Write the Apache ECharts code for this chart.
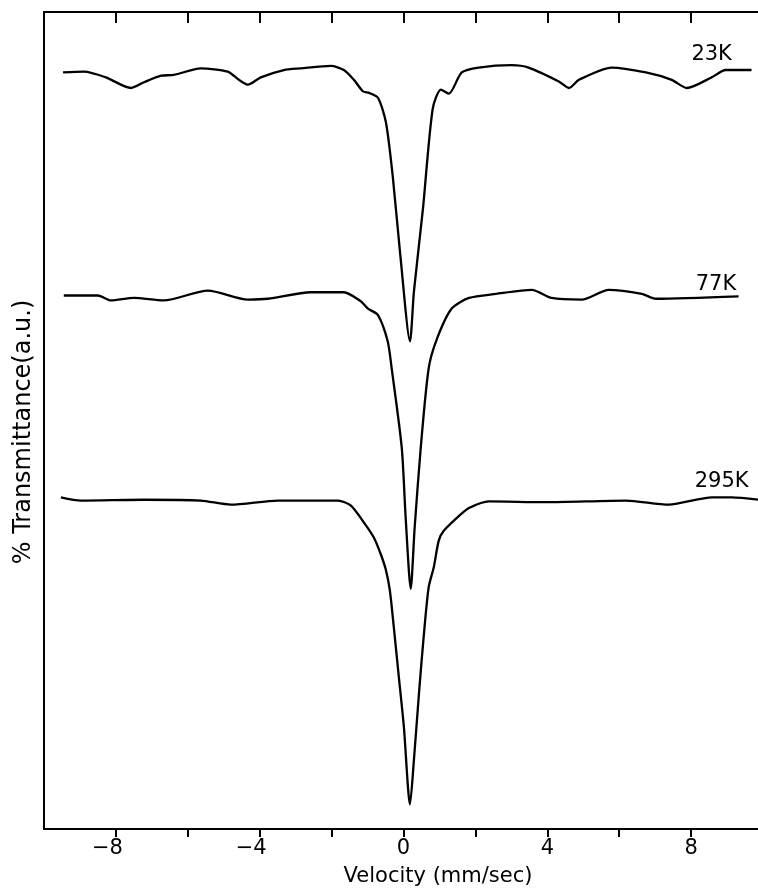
<!DOCTYPE html>
<html>
<head>
<meta charset="utf-8">
<script src="https://cdn.jsdelivr.net/npm/echarts@6/dist/echarts.min.js"></script>
<style>
  html, body { margin: 0; padding: 0; background: #fff; }
  #chart { width: 758px; height: 892px; }
</style>
</head>
<body>
<div id="chart"></div>
<script>
// Velocity (mm/sec) vs % Transmittance (a.u.), spectra stacked with offsets
const spectrum23K = [
  [-9.47,92.6],[-8.89,92.7],[-8.28,92.0],[-7.58,90.7],[-7.22,91.4],[-6.74,92.2],[-6.39,92.3],
  [-5.64,93.1],[-4.89,92.7],[-4.58,91.7],[-4.33,91.1],[-3.97,92.0],[-3.33,92.9],[-2.86,93.1],
  [-2.02,93.4],[-1.66,92.9],[-1.38,91.7],[-1.13,90.3],[-0.96,90.1],[-0.71,89.5],[-0.49,86.5],
  [-0.30,79.9],[-0.08,69.8],[0.18,59.7],[0.29,65.8],[0.54,75.9],[0.81,88.1],[1.04,90.5],
  [1.26,90.0],[1.62,92.6],[2.09,93.2],[3.01,93.5],[3.48,93.2],[4.32,91.5],[4.60,90.7],
  [4.88,91.7],[5.79,93.2],[6.74,92.6],[7.46,91.7],[7.88,90.7],[8.57,92.0],[8.96,92.9],[9.68,92.9]
];
const spectrum77K = [
  [-9.45,65.3],[-8.50,65.3],[-8.14,64.7],[-7.50,65.0],[-6.67,64.7],[-5.44,65.9],[-4.33,64.8],
  [-3.77,64.9],[-2.58,65.7],[-1.66,65.7],[-1.19,64.6],[-0.99,63.7],[-0.71,62.9],[-0.44,59.7],
  [-0.33,56.4],[-0.05,46.7],[0.06,38.1],[0.20,29.4],[0.31,36.9],[0.48,46.7],[0.70,56.4],
  [0.93,60.0],[1.34,63.7],[1.82,65.0],[2.57,65.5],[3.57,66.0],[4.12,65.0],[4.96,64.8],
  [5.71,66.0],[6.63,65.5],[7.02,64.9],[9.32,65.2]
];
const spectrum295K = [
  [-9.53,40.6],[-8.97,40.2],[-7.22,40.3],[-5.64,40.2],[-4.80,39.7],[-3.49,40.2],[-1.82,40.2],
  [-1.47,39.6],[-1.10,37.5],[-0.83,35.7],[-0.63,33.6],[-0.49,31.7],[-0.38,29.2],[-0.27,24.7],
  [-0.13,18.6],[0.01,12.5],[0.18,3.0],[0.29,8.5],[0.43,16.6],[0.56,23.5],[0.70,29.6],
  [0.84,32.0],[0.98,35.3],[1.12,36.5],[1.59,38.5],[1.82,39.3],[2.37,40.1],[3.96,40.0],
  [6.18,40.2],[7.38,39.7],[8.58,40.6],[9.13,40.6],[9.88,40.3]
];
const seriesNames = ['23K', '77K', '295K'];
const labelPositions = [[8.57, 94.8], [8.69, 66.6], [8.85, 42.5]];
const xTickLabels = [-8, -4, 0, 4, 8];
const xTicks = [-8, -6, -4, -2, 0, 2, 4, 6, 8];

const FONT = 'DejaVu Sans';
const allData = [spectrum23K, spectrum77K, spectrum295K];

const chart = echarts.init(document.getElementById('chart'), null, { renderer: 'canvas' });
const fmt = v => {
  const r = Math.round(v * 100) / 100;
  if (r < 0) return '\u2212' + (-r) + '{sp|}';
  return String(r);
};
chart.setOption({
  animation: false,
  backgroundColor: '#fff',
  grid: { left: 44, right: 0, top: 12, bottom: 59 },
  xAxis: [
    {
      type: 'value', position: 'bottom', min: -10, max: 9.86, interval: 2,
      axisLine: { show: true, onZero: false, lineStyle: { color: '#000', width: 2 } },
      axisTick: { show: true, inside: false, length: 8, customValues: xTicks, lineStyle: { color: '#000', width: 2 } },
      axisLabel: {
        formatter: fmt, customValues: xTickLabels, color: '#000', fontSize: 21, fontFamily: FONT, margin: 9,
        rich: { sp: { width: 17 } }
      },
      splitLine: { show: false },
      name: 'Velocity (mm/sec)', nameLocation: 'middle', nameGap: 37,
      nameTextStyle: { color: '#000', fontSize: 21, fontFamily: FONT, padding: [0, 0, 0, 74] }
    },
    {
      type: 'value', position: 'top', min: -10, max: 9.86, interval: 2,
      axisLine: { show: true, onZero: false, lineStyle: { color: '#000', width: 2 } },
      axisTick: { show: true, inside: true, length: 11, customValues: xTicks, lineStyle: { color: '#000', width: 2 } },
      axisLabel: { show: false },
      splitLine: { show: false }
    }
  ],
  yAxis: {
    type: 'value', min: 0, max: 100,
    axisLine: { show: true, onZero: false, lineStyle: { color: '#000', width: 2 } },
    axisTick: { show: false }, axisLabel: { show: false }, splitLine: { show: false },
    name: '% Transmittance(a.u.)', nameLocation: 'middle', nameGap: 8,
    nameTextStyle: { color: '#000', fontSize: 24, fontFamily: FONT, padding: [0, 23, 0, 0] }
  },
  series: allData.map((d, i) => ({
    type: 'line', name: seriesNames[i], data: d, xAxisIndex: 0,
    showSymbol: false, smooth: 0.25, clip: false,
    lineStyle: { color: '#000', width: 2.3 },
    markPoint: {
      symbol: 'circle', symbolSize: 0,
      label: { show: true, position: 'inside', formatter: seriesNames[i], color: '#000', fontSize: 21, fontFamily: FONT },
      data: [{ coord: labelPositions[i] }]
    }
  }))
});
</script>
</body>
</html>
